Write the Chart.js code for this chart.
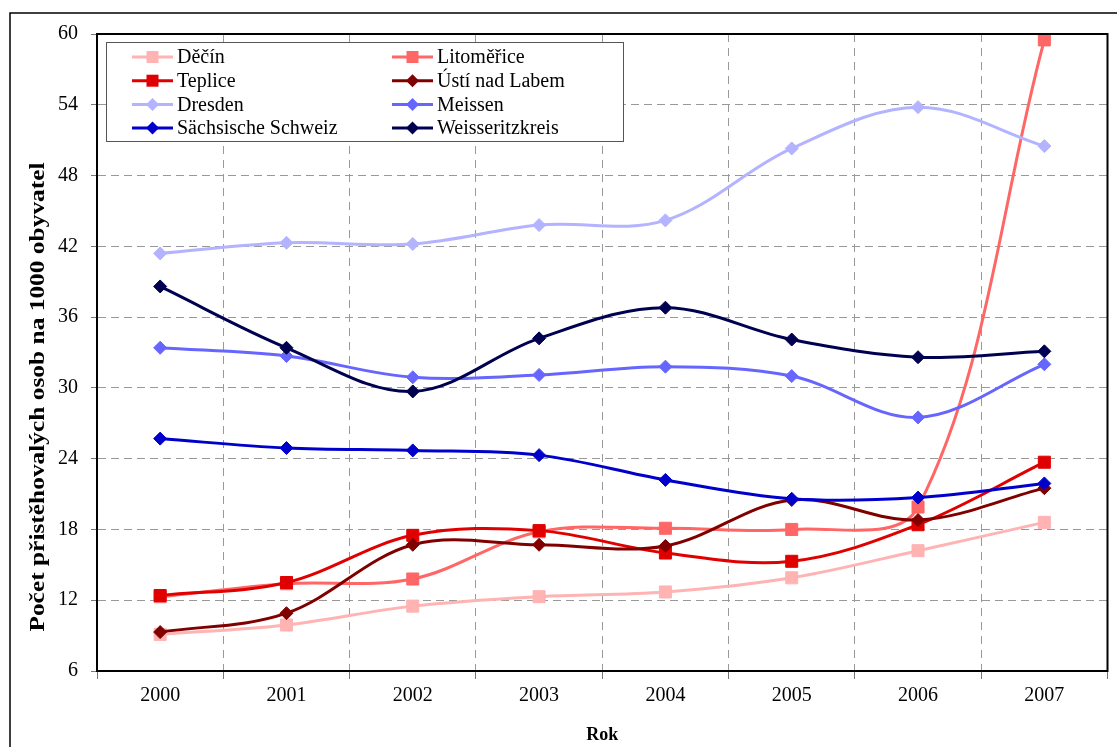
<!DOCTYPE html>
<html>
<head>
<meta charset="utf-8">
<script src="https://cdn.jsdelivr.net/npm/chart.js@4.4.0/dist/chart.umd.min.js"></script>
<style>
    html, body { margin: 0; padding: 0; background: #fff; }
    #wrap { width: 1117px; height: 747px; }
</style>
</head>
<body>
<div id="wrap"><canvas id="Chart" width="1117" height="747"></canvas></div>
<script>
// years on the x axis
const years = ['2000', '2001', '2002', '2003', '2004', '2005', '2006', '2007'];

// series names, in the order of the original legend
const seriesNames = ['Děčín', 'Litoměřice', 'Teplice', 'Ústí nad Labem',
    'Dresden', 'Meissen', 'Sächsische Schweiz', 'Weisseritzkreis'];

// values (per 1000 inhabitants)
const decin = [9.1, 9.9, 11.5, 12.3, 12.7, 13.9, 16.2, 18.6];
const litomerice = [12.3, 13.4, 13.8, 17.8, 18.1, 18.0, 19.9, 59.5];
const teplice = [12.4, 13.5, 17.5, 17.9, 16.0, 15.3, 18.4, 23.7];
const usti = [9.3, 10.9, 16.7, 16.7, 16.6, 20.5, 18.8, 21.5];
const dresden = [41.4, 42.3, 42.2, 43.8, 44.2, 50.3, 53.8, 50.5];
const meissen = [33.4, 32.7, 30.9, 31.1, 31.8, 31.0, 27.5, 32.0];
const saechsSchweiz = [25.7, 24.9, 24.7, 24.3, 22.2, 20.6, 20.7, 21.9];
const weisseritz = [38.6, 33.4, 29.7, 34.2, 36.8, 34.1, 32.6, 33.1];

// y axis ticks
const yMin = 6;
const yMax = 60;
const yStep = 6;

const seriesValues = [decin, litomerice, teplice, usti, dresden, meissen, saechsSchweiz, weisseritz];
const seriesColors = ['#ffb3b3', '#ff6666', '#e00000', '#800000', '#b3b3ff', '#6666ff', '#0000cc', '#000050'];
const seriesMarkers = ['rect', 'rect', 'rect', 'rectRot', 'rectRot', 'rectRot', 'rectRot', 'rectRot'];

const serif = '"Liberation Serif", "Times New Roman", serif';

function markerRadius(style) {
    return style === 'rect' ? 8.5 : 6.5;
}

function drawMarker(ctx, style, color, x, y) {
    ctx.fillStyle = color;
    ctx.beginPath();
    if (style === 'rect') {
        ctx.rect(x - 6, y - 6, 12, 12);
    } else {
        ctx.moveTo(x - 6.5, y);
        ctx.lineTo(x, y - 6.5);
        ctx.lineTo(x + 6.5, y);
        ctx.lineTo(x, y + 6.5);
        ctx.closePath();
    }
    ctx.fill();
}

const framePlugin = {
    id: 'frame',
    beforeDraw(chart) {
        const ctx = chart.ctx;
        ctx.save();
        ctx.fillStyle = '#fff';
        ctx.fillRect(0, 0, chart.width, chart.height);
        ctx.strokeStyle = '#000';
        ctx.lineWidth = 1.5;
        ctx.strokeRect(10, 13, 1200, 800);
        ctx.restore();
    },
    afterDatasetsDraw(chart) {
        const ctx = chart.ctx;
        const area = chart.chartArea;
        ctx.save();
        // legend box inside the plot area
        const bx = 106, by = 42, bw = 517, bh = 99;
        ctx.fillStyle = '#fff';
        ctx.fillRect(bx, by, bw, bh);
        ctx.strokeStyle = '#555';
        ctx.lineWidth = 1;
        ctx.strokeRect(bx + 0.5, by + 0.5, bw, bh);
        ctx.font = '20px ' + serif;
        ctx.textBaseline = 'middle';
        ctx.textAlign = 'left';
        seriesNames.forEach(function (name, i) {
            const col = i % 2;
            const row = Math.floor(i / 2);
            const x0 = col === 0 ? 132 : 392;
            const y0 = 57 + row * 23.7;
            ctx.strokeStyle = seriesColors[i];
            ctx.lineWidth = 3;
            ctx.beginPath();
            ctx.moveTo(x0, y0);
            ctx.lineTo(x0 + 41, y0);
            ctx.stroke();
            drawMarker(ctx, seriesMarkers[i], seriesColors[i], x0 + 20.5, y0);
            ctx.fillStyle = '#000';
            ctx.fillText(name, x0 + 45, y0 + 1);
        });
        // plot area border (top and right)
        ctx.strokeStyle = '#000';
        ctx.lineWidth = 2;
        ctx.strokeRect(area.left, area.top, area.right - area.left, area.bottom - area.top);
        // axis titles
        ctx.fillStyle = '#000';
        ctx.font = 'bold 18px ' + serif;
        ctx.textAlign = 'center';
        ctx.textBaseline = 'middle';
        ctx.fillText('Rok', (area.left + area.right) / 2, 735);
        ctx.translate(39, 397);
        ctx.rotate(-Math.PI / 2);
        ctx.font = 'bold 20px ' + serif;
        ctx.scale(1.27, 1);
        ctx.fillText('Počet přistěhovalých osob na 1000 obyvatel', 0, 0);
        ctx.restore();
    }
};

const datasets = seriesNames.map(function (name, i) {
    return {
        label: name,
        data: seriesValues[i],
        borderColor: seriesColors[i],
        backgroundColor: seriesColors[i],
        pointBackgroundColor: seriesColors[i],
        pointBorderColor: seriesColors[i],
        pointStyle: seriesMarkers[i],
        pointRadius: markerRadius(seriesMarkers[i]),
        pointBorderWidth: 1,
        borderWidth: 3,
        tension: 0.35,
        fill: false,
        order: seriesNames.length - i
    };
});

const ctx = document.getElementById('Chart').getContext('2d');
const migrationChart = new Chart(ctx, {
    type: 'line',
    data: {
        labels: years,
        datasets: datasets
    },
    options: {
        responsive: false,
        animation: false,
        devicePixelRatio: 1,
        layout: { padding: { left: 0, top: 34, right: 9, bottom: 0 } },
        plugins: {
            legend: { display: false },
            tooltip: { enabled: false },
            title: { display: false }
        },
        scales: {
            x: {
                type: 'category',
                offset: true,
                grid: {
                    offset: true,
                    color: '#999',
                    lineWidth: 1,
                    tickColor: '#777',
                    tickLength: 8,
                    tickBorderDash: []
                },
                border: { display: true, color: '#000', width: 2, dash: [8, 6] },
                ticks: {
                    color: '#000',
                    font: { family: serif, size: 20 },
                    padding: 5,
                    maxRotation: 0
                },
                afterFit: function (scale) { scale.height = 76; }
            },
            y: {
                min: yMin,
                max: yMax,
                grid: {
                    color: '#999',
                    lineWidth: 1,
                    tickColor: '#777',
                    tickLength: 6,
                    tickBorderDash: []
                },
                border: { display: true, color: '#000', width: 2, dash: [8, 5] },
                ticks: {
                    stepSize: yStep,
                    color: '#000',
                    font: { family: serif, size: 20 },
                    padding: 13
                },
                afterFit: function (scale) { scale.width = 97; }
            }
        }
    },
    plugins: [framePlugin]
});
</script>
</body>
</html>
